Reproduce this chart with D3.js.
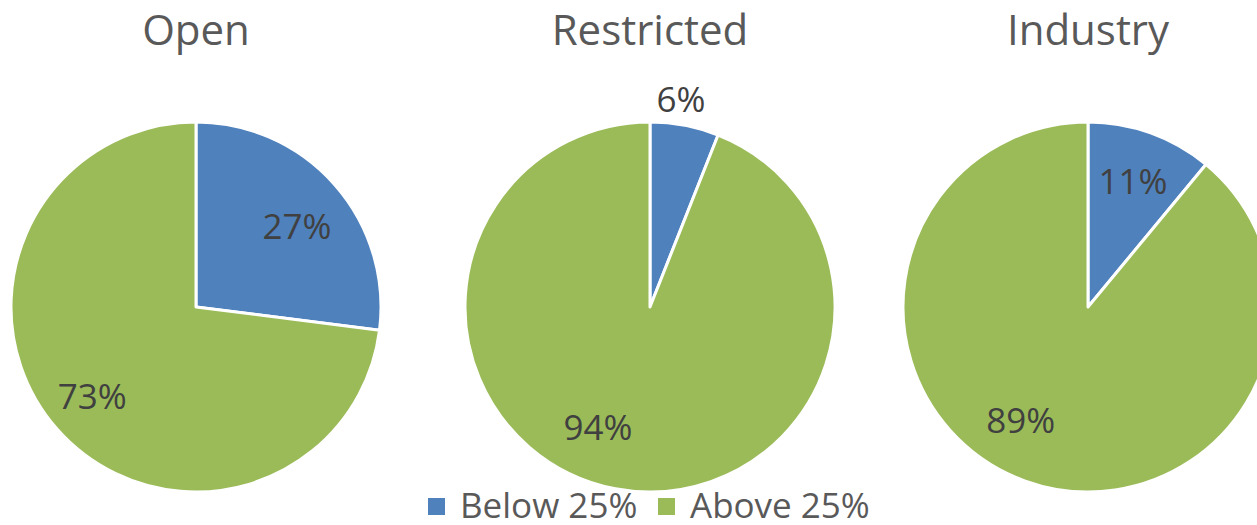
<!DOCTYPE html>
<html>
<head>
<meta charset="utf-8">
<script src="https://cdn.jsdelivr.net/npm/d3@7"></script>
<style>
  html, body { margin: 0; padding: 0; background: #fff; overflow: hidden; }
  svg { display: block; font-family: "Segoe UI", "Open Sans", "Noto Sans", sans-serif; }
</style>
</head>
<body>
<svg id="chart" width="1257" height="525"></svg>
<script>
// Share of respondents by group, split at the 25% threshold
const groups = ["Open", "Restricted", "Industry"];
const seriesNames = ["Below 25%", "Above 25%"];
const belowValues = [27, 6, 11];
const aboveValues = [73, 94, 89];

const colors = ["#4F81BD", "#9BBB59"];
const radius = 185;
const centerY = 307;

const svg = d3.select("#chart");

// Horizontal placement of the three pies
const xScale = d3.scaleOrdinal()
  .domain(groups)
  .range([196, 650, 1088]);

const pie = d3.pie().sort(null).value(d => d.value);
const arc = d3.arc().innerRadius(0).outerRadius(radius);

// Label placement: distance from centre and angular nudge (radians) per slice
const labelPlace = {
  "Open":       [{ r: 129, da: 0.05 }, { r: 137, da: 0.01 }],
  "Restricted": [{ r: 210, da: -0.04 }, { r: 131, da: 0.22 }],
  "Industry":   [{ r: 133, da: 0.0 },  { r: 132, da: 0.19 }]
};

groups.forEach((g, gi) => {
  const data = [
    { key: seriesNames[0], value: belowValues[gi] },
    { key: seriesNames[1], value: aboveValues[gi] }
  ];
  const cx = xScale(g);
  const gEl = svg.append("g").attr("transform", `translate(${cx},${centerY})`);
  const arcs = pie(data);

  gEl.selectAll("path")
    .data(arcs)
    .join("path")
    .attr("d", arc)
    .attr("fill", (d, i) => colors[i])
    .attr("stroke", "#fff")
    .attr("stroke-width", 3)
    .attr("stroke-linejoin", "round");

  gEl.selectAll("text.lbl")
    .data(arcs)
    .join("text")
    .attr("class", "lbl")
    .attr("transform", (d, i) => {
      const p = labelPlace[g][i];
      const a = (d.startAngle + d.endAngle) / 2 + p.da;
      return `translate(${Math.sin(a) * p.r},${-Math.cos(a) * p.r})`;
    })
    .attr("text-anchor", "middle")
    .attr("dy", "0.36em")
    .attr("fill", "#404040")
    .attr("font-size", 35)
    .text(d => d.data.value + "%");

  svg.append("text")
    .attr("x", cx)
    .attr("y", 45)
    .attr("text-anchor", "middle")
    .attr("fill", "#595959")
    .attr("font-size", 42)
    .text(g);
});

// Legend along the bottom edge
const legend = svg.append("g");
const legendItems = [
  { name: seriesNames[0], color: colors[0], x: 428 },
  { name: seriesNames[1], color: colors[1], x: 658 }
];
legendItems.forEach(it => {
  legend.append("rect")
    .attr("x", it.x).attr("y", 498)
    .attr("width", 17).attr("height", 17)
    .attr("fill", it.color);
  legend.append("text")
    .attr("x", it.x + 32).attr("y", 518)
    .attr("fill", "#595959")
    .attr("font-size", 35)
    .text(it.name);
});
</script>
</body>
</html>
